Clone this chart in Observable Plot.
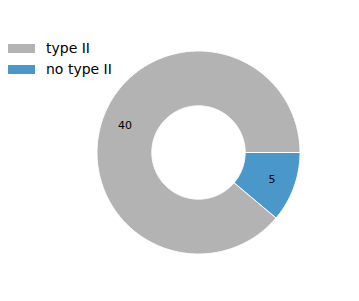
<!DOCTYPE html>
<html><head><meta charset="utf-8">
<script src="https://cdn.jsdelivr.net/npm/d3@7"></script>
<script src="https://cdn.jsdelivr.net/npm/@observablehq/plot@0.6"></script>
<style>
body{margin:0;background:#fff;}
#wrap{position:relative;width:359px;height:301px;font-family:"DejaVu Sans",sans-serif;}
#legend{position:absolute;left:0;top:0;}
.item{position:absolute;left:8px;width:200px;height:16px;}
.sw{position:absolute;left:0;top:4px;width:27px;height:9px;}
.lb{position:absolute;left:38px;top:0;font-size:14px;line-height:16px;color:#000;white-space:nowrap;}
</style></head>
<body><div id="wrap"><div id="chart"></div><div id="legend"></div></div>
<script>
const categories = ["type II", "no type II"];
const values = [40, 5];
const colors = ["#b3b3b3", "#4a98c9"];

const innerR = 0.46, labelR = 0.77;
const total = d3.sum(values);
let cum = 0;
const pts = [], labels = [];
categories.forEach((c, i) => {
  const a0 = cum / total * 2 * Math.PI;
  cum += values[i];
  const a1 = cum / total * 2 * Math.PI;
  const n = Math.max(4, Math.ceil((a1 - a0) / (Math.PI / 180)));
  for (let k = 0; k <= n; k++) { const a = a0 + (a1 - a0) * k / n; pts.push({c, x: Math.cos(a), y: Math.sin(a)}); }
  for (let k = n; k >= 0; k--) { const a = a0 + (a1 - a0) * k / n; pts.push({c, x: innerR * Math.cos(a), y: innerR * Math.sin(a)}); }
  const am = (a0 + a1) / 2;
  labels.push({c, v: values[i], x: labelR * Math.cos(am), y: labelR * Math.sin(am)});
});

const W = 359, H = 301, cx = 198, cy = 152, R = 101.5;
const plot = Plot.plot({
  width: W, height: H, margin: 0,
  x: {domain: [-cx / R, (W - cx) / R], axis: null},
  y: {domain: [-(H - cy) / R, cy / R], axis: null},
  color: {domain: categories, range: colors},
  style: {fontFamily: "DejaVu Sans, sans-serif", background: "white"},
  marks: [
    Plot.line(pts, {x: "x", y: "y", z: "c", fill: "c", stroke: "white", strokeWidth: 1, curve: "linear-closed"}),
    Plot.text(labels, {x: "x", y: "y", text: "v", fontSize: 11, fill: "black"})
  ]
});
document.getElementById("chart").appendChild(plot);

const leg = document.getElementById("legend");
categories.forEach((c, i) => {
  const it = document.createElement("div");
  it.className = "item"; it.style.top = (40 + i * 21) + "px";
  it.innerHTML = `<div class="sw" style="background:${colors[i]}"></div><div class="lb">${c}</div>`;
  leg.appendChild(it);
});
</script></body></html>
